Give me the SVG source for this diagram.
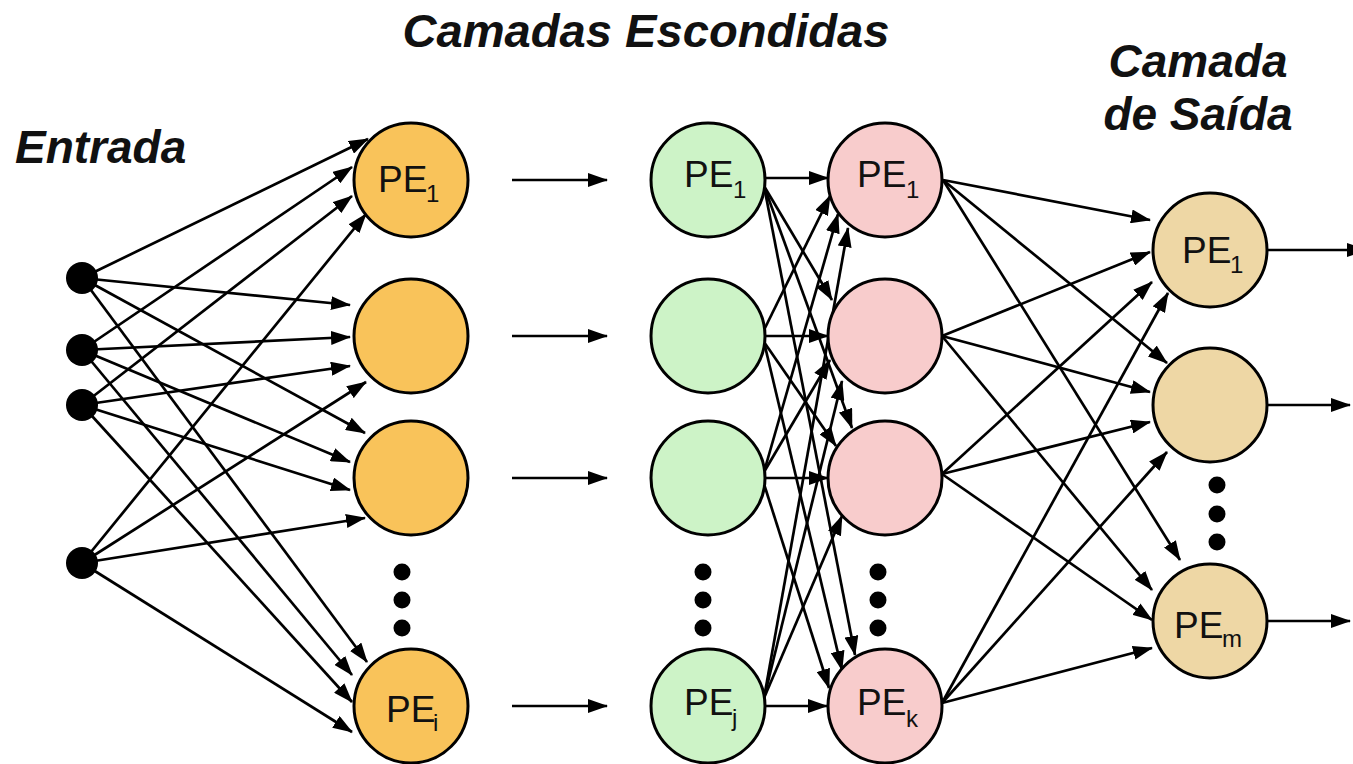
<svg xmlns="http://www.w3.org/2000/svg" width="1353" height="764" viewBox="0 0 1353 764">
  <defs>
    <marker id="ah" markerUnits="userSpaceOnUse" markerWidth="20" markerHeight="14" refX="19" refY="7" orient="auto">
      <path d="M0,0 L20,7 L0,14 Z" fill="#000"/>
    </marker>
    <style>
      .lnk { stroke:#000; stroke-width:2.7; fill:none; marker-end:url(#ah); }
      .pe { stroke:#000; stroke-width:3; }
      .l1 { fill:#F9C35A; }
      .l2 { fill:#CDF3C7; }
      .l3 { fill:#F8CCCC; }
      .l4 { fill:#EED7A5; }
      .in { fill:#000; }
      .dot { fill:#000; }
      .lbl { font-family:"Liberation Sans", Arial, sans-serif; font-size:37px; fill:#111; }
      .sub { font-size:24px; }
      .ttl { font-family:"Liberation Sans", Arial, sans-serif; font-weight:bold; font-style:italic; font-size:46px; fill:#111; }
    </style>
  </defs>

  <rect width="1353" height="764" fill="#fff"/>

  <!-- headings -->
  <g id="headings">
    <text class="ttl" x="646" y="47" text-anchor="middle" textLength="487" lengthAdjust="spacingAndGlyphs">Camadas Escondidas</text>
    <text class="ttl" x="15" y="163">Entrada</text>
    <text class="ttl" x="1198" y="77" text-anchor="middle">Camada</text>
    <text class="ttl" x="1198" y="130" text-anchor="middle">de Saída</text>
  </g>

  <!-- connectors -->
  <g id="connectors">
    <!-- inputs to first hidden layer -->
    <line class="lnk" x1="82" y1="278" x2="368" y2="139"/>
    <line class="lnk" x1="82" y1="350" x2="352" y2="167"/>
    <line class="lnk" x1="82" y1="405" x2="352" y2="196"/>
    <line class="lnk" x1="82" y1="563" x2="366" y2="214"/>

    <line class="lnk" x1="82" y1="278" x2="350" y2="305"/>
    <line class="lnk" x1="82" y1="350" x2="350" y2="337"/>
    <line class="lnk" x1="82" y1="405" x2="350" y2="366"/>
    <line class="lnk" x1="82" y1="563" x2="366" y2="382"/>

    <line class="lnk" x1="82" y1="278" x2="365" y2="433"/>
    <line class="lnk" x1="82" y1="350" x2="350" y2="462"/>
    <line class="lnk" x1="82" y1="405" x2="350" y2="490"/>
    <line class="lnk" x1="82" y1="563" x2="365" y2="518"/>

    <line class="lnk" x1="82" y1="278" x2="367" y2="662"/>
    <line class="lnk" x1="82" y1="350" x2="352" y2="675"/>
    <line class="lnk" x1="82" y1="405" x2="352" y2="702"/>
    <line class="lnk" x1="82" y1="563" x2="352" y2="732"/>

    <!-- first hidden layer to second -->
    <line class="lnk" x1="512" y1="180" x2="607" y2="180"/>
    <line class="lnk" x1="512" y1="336" x2="607" y2="336"/>
    <line class="lnk" x1="512" y1="478" x2="607" y2="478"/>
    <line class="lnk" x1="512" y1="706" x2="607" y2="706"/>

    <!-- second hidden layer to third -->
    <line class="lnk" x1="765" y1="178" x2="828" y2="178"/>
    <line class="lnk" x1="764" y1="330" x2="830" y2="196"/>
    <line class="lnk" x1="764" y1="472" x2="838" y2="214"/>
    <line class="lnk" x1="764" y1="698" x2="848" y2="228"/>

    <line class="lnk" x1="764" y1="186" x2="832" y2="300"/>
    <line class="lnk" x1="765" y1="336" x2="828" y2="336"/>
    <line class="lnk" x1="764" y1="472" x2="830" y2="360"/>
    <line class="lnk" x1="764" y1="698" x2="842" y2="381"/>

    <line class="lnk" x1="764" y1="186" x2="852" y2="428"/>
    <line class="lnk" x1="764" y1="342" x2="836" y2="446"/>
    <line class="lnk" x1="765" y1="478" x2="828" y2="478"/>
    <line class="lnk" x1="764" y1="698" x2="842" y2="516"/>

    <line class="lnk" x1="764" y1="186" x2="855" y2="655"/>
    <line class="lnk" x1="764" y1="342" x2="842" y2="670"/>
    <line class="lnk" x1="764" y1="484" x2="829" y2="688"/>
    <line class="lnk" x1="765" y1="706" x2="827" y2="706"/>

    <!-- third hidden layer to output layer -->
    <line class="lnk" x1="943" y1="180" x2="1150" y2="220"/>
    <line class="lnk" x1="942" y1="336" x2="1150" y2="252"/>
    <line class="lnk" x1="942" y1="474" x2="1152" y2="282"/>
    <line class="lnk" x1="942" y1="703" x2="1168" y2="293"/>

    <line class="lnk" x1="943" y1="180" x2="1167" y2="363"/>
    <line class="lnk" x1="942" y1="336" x2="1150" y2="392"/>
    <line class="lnk" x1="942" y1="474" x2="1150" y2="422"/>
    <line class="lnk" x1="942" y1="703" x2="1167" y2="452"/>

    <line class="lnk" x1="943" y1="180" x2="1180" y2="560"/>
    <line class="lnk" x1="942" y1="336" x2="1152" y2="590"/>
    <line class="lnk" x1="942" y1="474" x2="1152" y2="620"/>
    <line class="lnk" x1="942" y1="703" x2="1152" y2="648"/>

    <!-- outputs -->
    <line class="lnk" x1="1267" y1="250" x2="1366" y2="250"/>
    <line class="lnk" x1="1267" y1="405" x2="1350" y2="405"/>
    <line class="lnk" x1="1267" y1="621" x2="1350" y2="621"/>
  </g>

  <!-- input nodes -->
  <g id="in1"><circle class="in" cx="82" cy="278" r="16"/></g>
  <g id="in2"><circle class="in" cx="82" cy="350" r="16"/></g>
  <g id="in3"><circle class="in" cx="82" cy="405" r="16"/></g>
  <g id="in4"><circle class="in" cx="82" cy="563" r="16"/></g>

  <!-- first hidden layer -->
  <g id="h1-1">
    <circle class="pe l1" cx="411" cy="180" r="57"/>
    <text class="lbl" x="378" y="192">PE<tspan class="sub" x="426" y="202">1</tspan></text>
  </g>
  <g id="h1-2"><circle class="pe l1" cx="411" cy="336" r="57"/></g>
  <g id="h1-3"><circle class="pe l1" cx="411" cy="478" r="57"/></g>
  <g id="h1-dots">
    <circle class="dot" cx="402" cy="572" r="8.5"/>
    <circle class="dot" cx="402" cy="600" r="8.5"/>
    <circle class="dot" cx="402" cy="628" r="8.5"/>
  </g>
  <g id="h1-i">
    <circle class="pe l1" cx="411" cy="706" r="57"/>
    <text class="lbl" x="386" y="722">PE<tspan class="sub" x="433" y="731">i</tspan></text>
  </g>

  <!-- second hidden layer -->
  <g id="h2-1">
    <circle class="pe l2" cx="708" cy="180" r="57"/>
    <text class="lbl" x="684" y="187">PE<tspan class="sub" x="733" y="198">1</tspan></text>
  </g>
  <g id="h2-2"><circle class="pe l2" cx="708" cy="336" r="57"/></g>
  <g id="h2-3"><circle class="pe l2" cx="708" cy="478" r="57"/></g>
  <g id="h2-dots">
    <circle class="dot" cx="703" cy="572" r="8.5"/>
    <circle class="dot" cx="703" cy="600" r="8.5"/>
    <circle class="dot" cx="703" cy="628" r="8.5"/>
  </g>
  <g id="h2-j">
    <circle class="pe l2" cx="708" cy="706" r="57"/>
    <text class="lbl" x="684" y="715">PE<tspan class="sub" x="732" y="726">j</tspan></text>
  </g>

  <!-- third hidden layer -->
  <g id="h3-1">
    <circle class="pe l3" cx="885" cy="180" r="57"/>
    <text class="lbl" x="857" y="187">PE<tspan class="sub" x="906" y="198">1</tspan></text>
  </g>
  <g id="h3-2"><circle class="pe l3" cx="885" cy="336" r="57"/></g>
  <g id="h3-3"><circle class="pe l3" cx="885" cy="478" r="57"/></g>
  <g id="h3-dots">
    <circle class="dot" cx="878" cy="572" r="8.5"/>
    <circle class="dot" cx="878" cy="600" r="8.5"/>
    <circle class="dot" cx="878" cy="628" r="8.5"/>
  </g>
  <g id="h3-k">
    <circle class="pe l3" cx="885" cy="706" r="57"/>
    <text class="lbl" x="857" y="715">PE<tspan class="sub" x="906" y="727">k</tspan></text>
  </g>

  <!-- output layer -->
  <g id="out-1">
    <circle class="pe l4" cx="1210" cy="250" r="57"/>
    <text class="lbl" x="1182" y="263">PE<tspan class="sub" x="1230" y="273">1</tspan></text>
  </g>
  <g id="out-2"><circle class="pe l4" cx="1210" cy="405" r="57"/></g>
  <g id="out-dots">
    <circle class="dot" cx="1217" cy="485" r="8.5"/>
    <circle class="dot" cx="1217" cy="514" r="8.5"/>
    <circle class="dot" cx="1217" cy="542" r="8.5"/>
  </g>
  <g id="out-m">
    <circle class="pe l4" cx="1210" cy="621" r="57"/>
    <text class="lbl" x="1174" y="638">PE<tspan class="sub" x="1222" y="647">m</tspan></text>
  </g>
</svg>
